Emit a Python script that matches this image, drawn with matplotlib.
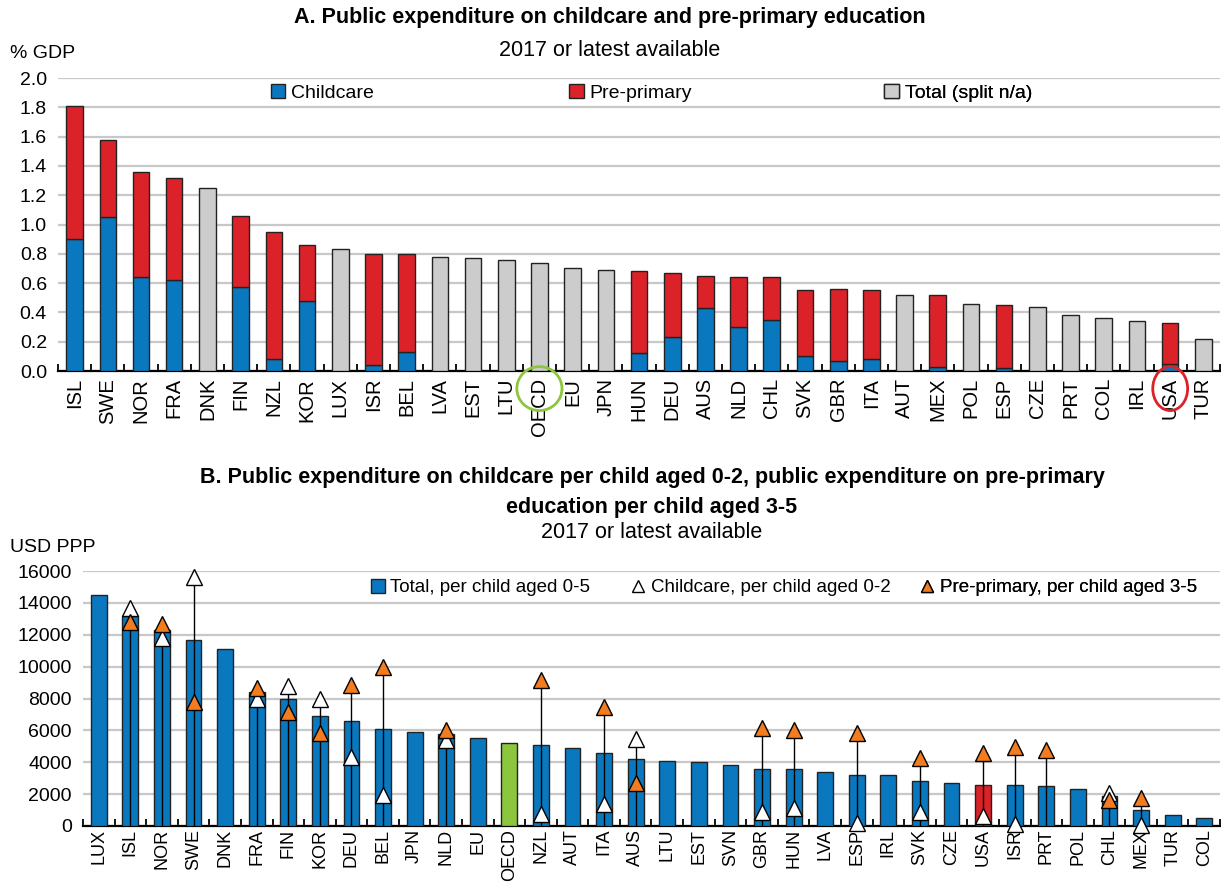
import matplotlib
matplotlib.use("Agg")
import matplotlib.pyplot as plt
from matplotlib import font_manager
from matplotlib.patches import Patch, Ellipse
from matplotlib.lines import Line2D
from matplotlib.transforms import blended_transform_factory
import numpy as np

names = {f.name for f in font_manager.fontManager.ttflist}
NARROW = "Liberation Sans Narrow" if "Liberation Sans Narrow" in names else "Liberation Sans"
REG = "Liberation Sans"
plt.rcParams["font.family"] = [NARROW, "DejaVu Sans"]

# ---------------- Panel A data (% GDP) ----------------
a_countries = ["ISL", "SWE", "NOR", "FRA", "DNK", "FIN", "NZL", "KOR", "LUX", "ISR", "BEL",
               "LVA", "EST", "LTU", "OECD", "EU", "JPN", "HUN", "DEU", "AUS", "NLD", "CHL",
               "SVK", "GBR", "ITA", "AUT", "MEX", "POL", "ESP", "CZE", "PRT", "COL", "IRL",
               "USA", "TUR"]
a_childcare = [0.90, 1.05, 0.64, 0.62, None, 0.57, 0.08, 0.48, None, 0.04, 0.13,
               None, None, None, None, None, None, 0.12, 0.23, 0.43, 0.30, 0.35,
               0.10, 0.07, 0.08, None, 0.03, None, 0.02, None, None, None, None,
               0.05, None]
a_total = [1.81, 1.58, 1.36, 1.32, 1.25, 1.06, 0.95, 0.86, 0.83, 0.80, 0.80,
           0.78, 0.77, 0.76, 0.74, 0.70, 0.69, 0.68, 0.67, 0.65, 0.64, 0.64,
           0.55, 0.56, 0.55, 0.52, 0.52, 0.46, 0.45, 0.44, 0.38, 0.36, 0.34,
           0.33, 0.22]

# ---------------- Panel B data (USD PPP) ----------------
b_countries = ["LUX", "ISL", "NOR", "SWE", "DNK", "FRA", "FIN", "KOR", "DEU", "BEL", "JPN",
               "NLD", "EU", "OECD", "NZL", "AUT", "ITA", "AUS", "LTU", "EST", "SVN", "GBR",
               "HUN", "LVA", "ESP", "IRL", "SVK", "CZE", "USA", "ISR", "PRT", "POL", "CHL",
               "MEX", "TUR", "COL"]
b_total = [14500, 13200, 12300, 11700, 11100, 8400, 8000, 6900, 6600, 6100, 5900,
           5800, 5500, 5200, 5100, 4900, 4600, 4200, 4100, 4000, 3800, 3600,
           3600, 3400, 3200, 3200, 2800, 2700, 2600, 2600, 2500, 2300, 1900,
           1000, 700, 480]
b_childcare = [None, 13700, 11800, 15600, None, 8000, 8800, 7950, 4350, 1950, None,
               5400, None, None, 750, None, 1350, 5450, None, None, None, 850,
               1150, None, 200, None, 850, None, 650, 150, None, None, 2050,
               50, None, None]
b_preprimary = [None, 12800, 12700, 7750, None, 8650, 7150, 5850, 8850, 9950, None,
                6050, None, None, 9150, None, 7450, 2700, None, None, None, 6150,
                6050, None, 5850, None, 4250, None, 4550, 4950, 4750, None, 1650,
                1750, None, None]

BLUE = "#0a78bf"
RED = "#dc2229"
GREY = "#cccccc"
GREEN = "#8cc63f"
ORANGE = "#f47c20"
GRID = "#c8c8c8"

fig = plt.figure(figsize=(12.21, 8.84), dpi=100)
W, H = 1221.0, 884.0


def px_axes(left, top, right, bottom):
    return fig.add_axes([left / W, 1 - bottom / H, (right - left) / W, (bottom - top) / H])


def style_axis(ax, n, xpad):
    for s in ["left", "right", "top"]:
        ax.spines[s].set_visible(False)
    ax.spines["bottom"].set_linewidth(1.6)
    ax.spines["bottom"].set_color("black")
    ax.yaxis.grid(True, color=GRID, linewidth=1.6)
    ax.set_axisbelow(True)
    ax.tick_params(axis="y", length=0, labelsize=14, pad=8)
    ax.set_xlim(-0.5, n - 0.5)
    ax.set_xticks(np.arange(n))
    ax.set_xticks(np.arange(n + 1) - 0.5, minor=True)
    ax.tick_params(axis="x", which="major", length=0, pad=xpad)
    ax.tick_params(axis="x", which="minor", length=5, direction="in", width=1.3)


# ================= Panel A =================
axA = px_axes(58, 78, 1220, 371)
nA = len(a_countries)
xA = np.arange(nA)
style_axis(axA, nA, 5)
axA.set_xticklabels(a_countries, rotation=90, fontfamily=REG, fontsize=14.5)
axA.set_ylim(0, 2.0)
axA.set_yticks(np.arange(0, 2.01, 0.2))
axA.set_yticklabels([f"{v:.1f}" for v in np.arange(0, 2.01, 0.2)])

for i in range(nA):
    tot = a_total[i]
    cc = a_childcare[i]
    if cc is None:
        axA.bar(xA[i], tot, width=0.5, color=GREY, edgecolor="#222222", linewidth=1.0, zorder=3)
    else:
        axA.bar(xA[i], cc, width=0.5, color=BLUE, edgecolor="#222222", linewidth=1.0, zorder=3)
        axA.bar(xA[i], tot - cc, bottom=cc, width=0.5, color=RED, edgecolor="#222222",
                linewidth=1.0, zorder=3)

legA_items = [("Childcare", BLUE, 0.183), ("Pre-primary", RED, 0.440), ("Total (split n/a)", GREY, 0.711)]
for lab, col, xpos in legA_items:
    lg = axA.legend(handles=[Patch(facecolor=col, edgecolor="#222222", linewidth=1.0, label=lab)],
                    loc="center left", bbox_to_anchor=(xpos, 0.95), frameon=False,
                    fontsize=14, handlelength=0.75, handleheight=0.75, handletextpad=0.3,
                    borderpad=0, borderaxespad=0)
    axA.add_artist(lg)

trA = blended_transform_factory(axA.transData, axA.transAxes)
iO = a_countries.index("OECD")
iU = a_countries.index("USA")
axA.add_patch(Ellipse((xA[iO], -0.06), 1.36, 0.15, transform=trA, fill=False,
                      edgecolor=GREEN, linewidth=2, clip_on=False, zorder=5))
axA.add_patch(Ellipse((xA[iU], -0.06), 1.05, 0.15, transform=trA, fill=False,
                      edgecolor=RED, linewidth=2, clip_on=False, zorder=5))

fig.text(610 / W, 1 - 18 / H, "A. Public expenditure on childcare and pre-primary education",
         ha="center", va="center", fontsize=15.5, fontweight="bold")
fig.text(610 / W, 1 - 50 / H, "2017 or latest available", ha="center", va="center", fontsize=15.5)
fig.text(10 / W, 1 - 53 / H, "% GDP", ha="left", va="center", fontsize=14)

# ================= Panel B =================
axB = px_axes(83, 571, 1220, 826)
nB = len(b_countries)
xB = np.arange(nB)
style_axis(axB, nB, 2)
axB.set_xticklabels(b_countries, rotation=90, fontfamily=REG, fontsize=13)
axB.set_ylim(0, 16000)
axB.set_yticks(np.arange(0, 16001, 2000))
axB.set_yticklabels([str(v) for v in range(0, 16001, 2000)])

bar_colors = []
for c in b_countries:
    if c == "OECD":
        bar_colors.append(GREEN)
    elif c == "USA":
        bar_colors.append(RED)
    else:
        bar_colors.append(BLUE)
axB.bar(xB, b_total, width=0.5, color=bar_colors, edgecolor="#222222", linewidth=1.0, zorder=3)

for i in range(nB):
    vals = [v for v in (b_childcare[i], b_preprimary[i]) if v is not None]
    if vals:
        axB.vlines(xB[i], 0, max(vals), color="black", linewidth=1.0, zorder=4)

cc_x = [xB[i] for i in range(nB) if b_childcare[i] is not None]
cc_y = [b_childcare[i] for i in range(nB) if b_childcare[i] is not None]
pp_x = [xB[i] for i in range(nB) if b_preprimary[i] is not None]
pp_y = [b_preprimary[i] for i in range(nB) if b_preprimary[i] is not None]
axB.plot(cc_x, cc_y, linestyle="none", marker="^", markersize=11.5, markerfacecolor="white",
         markeredgecolor="black", markeredgewidth=1.0, zorder=6, clip_on=False)
axB.plot(pp_x, pp_y, linestyle="none", marker="^", markersize=11.5, markerfacecolor=ORANGE,
         markeredgecolor="black", markeredgewidth=1.0, zorder=6, clip_on=False)

legB_items = [
    (Patch(facecolor=BLUE, edgecolor="#222222", linewidth=1.0), "Total, per child aged 0-5", 0.253),
    (Line2D([], [], linestyle="none", marker="^", markersize=9, markerfacecolor="white",
            markeredgecolor="black"), "Childcare, per child aged 0-2", 0.482),
    (Line2D([], [], linestyle="none", marker="^", markersize=9, markerfacecolor=ORANGE,
            markeredgecolor="black"), "Pre-primary, per child aged 3-5", 0.736),
]
for h, lab, xpos in legB_items:
    lg = axB.legend(handles=[h], labels=[lab], loc="center left", bbox_to_anchor=(xpos, 0.935),
                    frameon=False, fontsize=13.5, handlelength=0.75, handleheight=0.75,
                    handletextpad=0.3, borderpad=0, borderaxespad=0)
    axB.add_artist(lg)

fig.text(652 / W, 1 - 478 / H,
         "B. Public expenditure on childcare per child aged 0-2, public expenditure on pre-primary",
         ha="center", va="center", fontsize=15.5, fontweight="bold")
fig.text(652 / W, 1 - 507 / H, "education per child aged 3-5", ha="center", va="center",
         fontsize=15.5, fontweight="bold")
fig.text(652 / W, 1 - 533 / H, "2017 or latest available", ha="center", va="center", fontsize=15.5)
fig.text(10 / W, 1 - 547 / H, "USD PPP", ha="left", va="center", fontsize=14)

fig.savefig("out.png", dpi=100)
